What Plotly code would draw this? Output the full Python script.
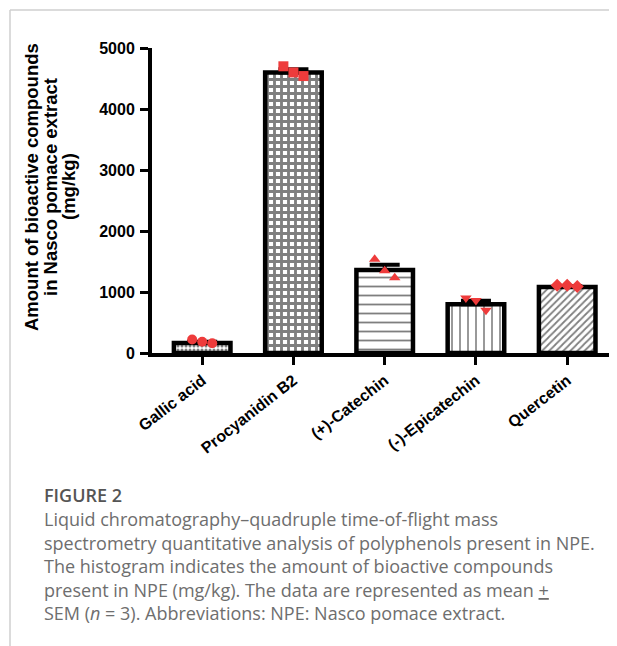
import plotly.graph_objects as go

# ---------------- data ----------------
compounds = ["Gallic acid", "Procyanidin B2", "(+)-Catechin", "(-)-Epicatechin", "Quercetin"]
means = [165, 4600, 1360, 800, 1080]
sems = [20, 50, 85, 55, 20]
rep1 = [220, 4700, 1536, 900, 1110]
rep2 = [185, 4600, 1349, 860, 1110]
rep3 = [160, 4540, 1235, 700, 1090]
y_tick_vals = [0, 1000, 2000, 3000, 4000, 5000]
y_title_lines = ["Amount of bioactive compounds", "in Nasco pomace extract", "(mg/kg)"]
caption_head = "FIGURE 2"
caption_lines = [
    "Liquid chromatography\u2013quadruple time-of-flight mass",
    "spectrometry quantitative analysis of polyphenols present in NPE.",
    "The histogram indicates the amount of bioactive compounds",
    "present in NPE (mg/kg). The data are represented as mean <u>+</u>",
    "SEM (<i>n</i> = 3). Abbreviations: NPE: Nasco pomace extract.",
]

# ---------------- styles / layout (page pixels; body has an 8px margin) ----------------
OFF = 8
W, H = 617 - OFF, 646 - OFF
PLOT_L, PLOT_R, PLOT_T, PLOT_B = 152, 611, 48, 353   # page pixels of the plot area
L, R, T, B = PLOT_L - OFF, 617 - PLOT_R, PLOT_T - OFF, 646 - PLOT_B
pw, ph = W - L - R, H - T - B

def px_x(px):
    return (px - OFF - L) / pw

def px_y(py):
    return (H - B - (py - OFF)) / ph

patterns = [
    dict(shape=".", size=4, solidity=0.45, fgcolor="black", bgcolor="white"),
    dict(shape="+", size=7, solidity=0.65, fgcolor="black", bgcolor="white"),
    dict(shape="-", size=9, solidity=0.2, fgcolor="black", bgcolor="white"),
    dict(shape="|", size=8, solidity=0.2, fgcolor="black", bgcolor="white"),
    dict(shape="/", size=5, solidity=0.35, fgcolor="black", bgcolor="white"),
]
symbols = ["circle", "square", "triangle-up", "triangle-down", "diamond"]
jitter = [-0.11, 0.0, 0.11]
red = "#ee3b3b"
xs = list(range(len(compounds)))

fig = go.Figure()
for i, name in enumerate(compounds):
    fig.add_trace(go.Bar(
        x=[xs[i]], y=[means[i]], width=0.62,
        marker=dict(color="white", pattern=patterns[i],
                    line=dict(color="black", width=4.5)),
        error_y=dict(type="data", array=[sems[i]], arrayminus=[0], symmetric=False,
                     color="black", thickness=4, width=15),
        showlegend=False, hoverinfo="skip",
    ))
for i, name in enumerate(compounds):
    reps = [rep1[i], rep2[i], rep3[i]]
    fig.add_trace(go.Scatter(
        x=[xs[i] + j for j in jitter], y=reps, mode="markers",
        marker=dict(symbol=symbols[i], color=red, size=10, line=dict(width=0)),
        showlegend=False, hoverinfo="skip",
    ))

tick_font = dict(family="Liberation Sans, Arial, sans-serif", size=16, color="black", weight="bold")

fig.update_layout(
    width=W, height=H,
    margin=dict(l=L, r=R, t=T, b=B),
    paper_bgcolor="white", plot_bgcolor="white",
    barmode="overlay",
    xaxis=dict(
        range=[-0.55, 4.48], tickvals=xs, ticktext=compounds, tickangle=-38,
        showline=True, linecolor="black", linewidth=4, ticks="outside",
        ticklen=8, tickwidth=3, tickcolor="black", tickfont=tick_font,
        showgrid=False, zeroline=False,
    ),
    yaxis=dict(
        range=[0, 5000], tickvals=y_tick_vals, showline=True, linecolor="black",
        linewidth=4, ticks="outside", ticklen=8, tickwidth=3, tickcolor="black",
        tickfont=tick_font, showgrid=False, zeroline=False, ticklabelstandoff=2,
    ),
)

# y-axis title, one annotation per line for tight line spacing
title_x = [31, 50, 68]
for k, line in enumerate(y_title_lines):
    fig.add_annotation(
        xref="paper", yref="paper", x=px_x(title_x[k]), y=px_y(187),
        text=line, textangle=-90, showarrow=False,
        font=dict(family="Liberation Sans, Arial, sans-serif", size=18.5, color="black", weight="bold"),
        xanchor="center", yanchor="middle",
    )

# caption
fig.add_annotation(
    xref="paper", yref="paper", x=px_x(42), y=px_y(495), text=caption_head,
    showarrow=False, xanchor="left", yanchor="middle",
    font=dict(family="Open Sans, sans-serif", size=18, color="#555555", weight=600),
)
for k, line in enumerate(caption_lines):
    fig.add_annotation(
        xref="paper", yref="paper", x=px_x(42), y=px_y(519 + 23.5 * k), text=line,
        showarrow=False, xanchor="left", yanchor="middle",
        font=dict(family="Open Sans, sans-serif", size=18, color="#6e6e6e"),
    )

# page frame lines
fig.add_shape(type="line", xref="paper", yref="paper", x0=px_x(10), x1=px_x(617),
              y0=px_y(10), y1=px_y(10), line=dict(color="#cfcfcf", width=1.5))
fig.add_shape(type="line", xref="paper", yref="paper", x0=px_x(10), x1=px_x(10),
              y0=px_y(10), y1=px_y(646), line=dict(color="#cfcfcf", width=1.5))

fig.write_html("out.html")
